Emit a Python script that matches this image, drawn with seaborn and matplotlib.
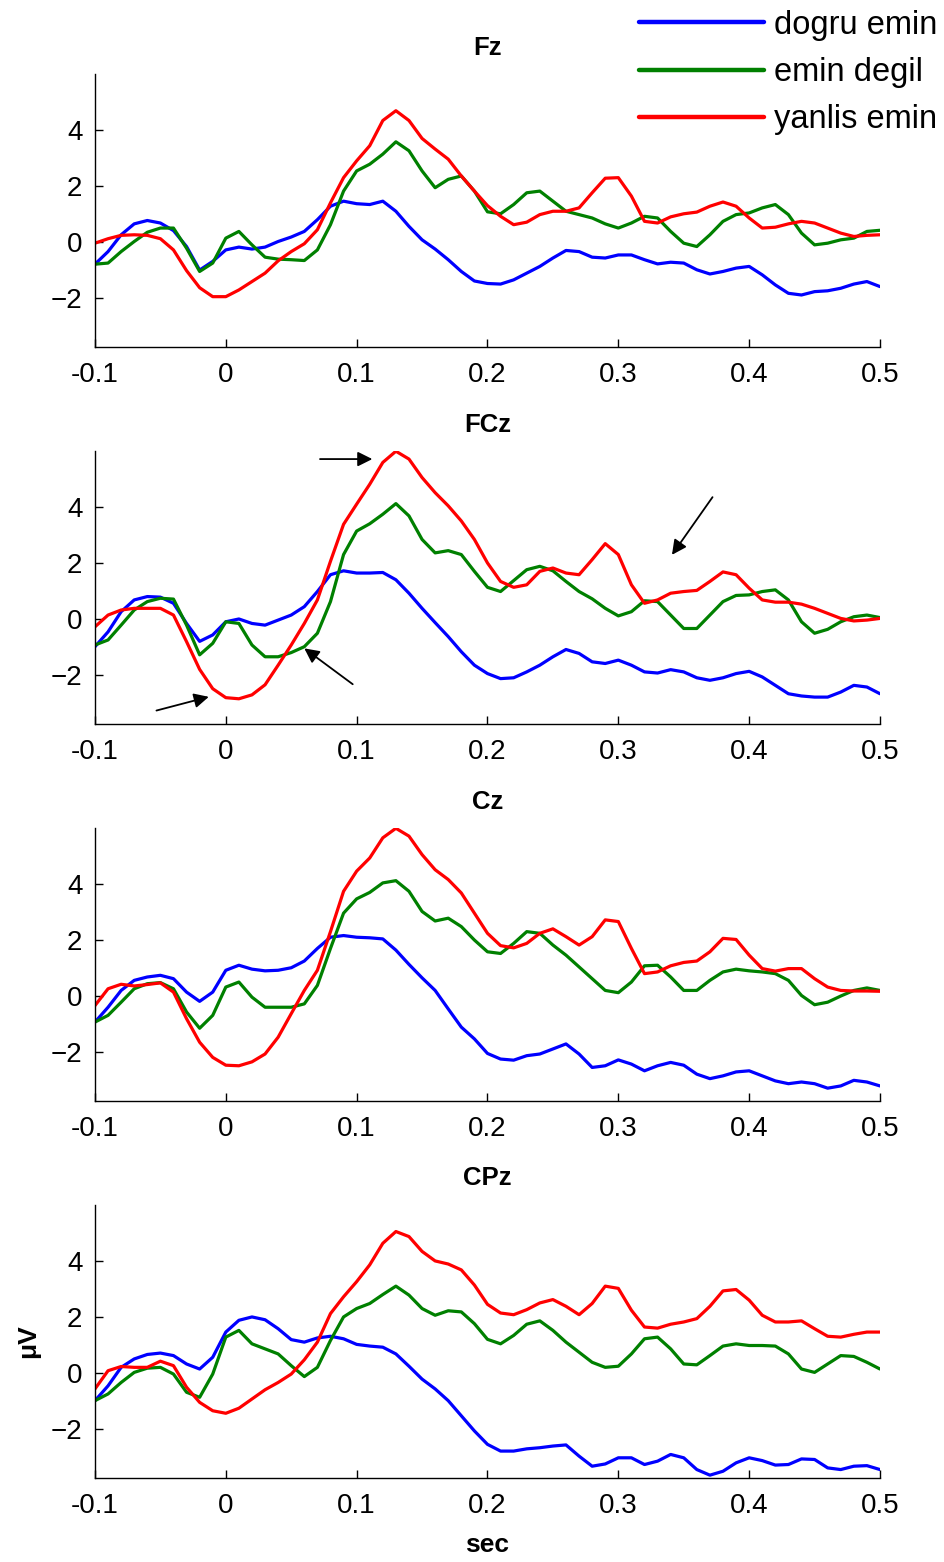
import numpy as np
import pandas as pd
import matplotlib.pyplot as plt
import seaborn as sns

# time axis (sec), one sample every 10 ms
time = np.round(np.linspace(-0.1, 0.5, 61), 2)

channels = ["Fz", "FCz", "Cz", "CPz"]
conditions = ["dogru emin", "emin degil", "yanlis emin"]
colors = ["#0000ff", "#008000", "#ff0000"]

x_ticks = [-0.1, 0, 0.1, 0.2, 0.3, 0.4, 0.5]
x_ticklabels = ["-0.1", "0", "0.1", "0.2", "0.3", "0.4", "0.5"]
y_ticks = [-2, 0, 2, 4]

# ERP amplitudes (uV)
fz_dogru = [-0.79, -0.34, 0.26, 0.65, 0.77, 0.68, 0.41, -0.16, -1.00, -0.69, -0.28,
            -0.18, -0.25, -0.18, 0.02, 0.18, 0.38, 0.80, 1.28, 1.46, 1.37,
            1.34, 1.46, 1.10, 0.56, 0.08, -0.25, -0.63, -1.05, -1.39, -1.48,
            -1.50, -1.35, -1.11, -0.87, -0.57, -0.30, -0.34, -0.54, -0.57, -0.46,
            -0.46, -0.63, -0.78, -0.72, -0.75, -0.99, -1.14, -1.05, -0.93, -0.87,
            -1.17, -1.53, -1.83, -1.89, -1.77, -1.74, -1.65, -1.50, -1.41, -1.59]
fz_emin = [-0.79, -0.75, -0.34, 0.02, 0.35, 0.50, 0.50, -0.22, -1.05, -0.75, 0.14,
           0.38, -0.10, -0.54, -0.61, -0.63, -0.66, -0.28, 0.62, 1.82, 2.54,
           2.78, 3.14, 3.58, 3.26, 2.54, 1.94, 2.24, 2.36, 1.82, 1.08,
           1.01, 1.34, 1.76, 1.82, 1.46, 1.10, 0.98, 0.86, 0.65, 0.50,
           0.68, 0.92, 0.86, 0.38, -0.04, -0.16, 0.26, 0.74, 0.98, 1.04,
           1.22, 1.34, 0.98, 0.32, -0.10, -0.04, 0.08, 0.14, 0.38, 0.42]
fz_yanlis = [-0.04, 0.12, 0.24, 0.26, 0.24, 0.12, -0.28, -1.02, -1.63, -1.95, -1.95,
             -1.71, -1.41, -1.11, -0.67, -0.34, -0.06, 0.44, 1.40, 2.30, 2.90,
             3.44, 4.34, 4.69, 4.34, 3.70, 3.32, 2.96, 2.36, 1.82, 1.30,
             0.92, 0.62, 0.71, 0.98, 1.10, 1.10, 1.22, 1.76, 2.28, 2.30,
             1.64, 0.74, 0.68, 0.90, 1.01, 1.07, 1.28, 1.43, 1.28, 0.86,
             0.50, 0.53, 0.65, 0.74, 0.68, 0.50, 0.32, 0.20, 0.24, 0.26]

fcz_dogru = [-0.99, -0.46, 0.26, 0.68, 0.80, 0.78, 0.56, -0.16, -0.80, -0.57, -0.10,
             0.00, -0.16, -0.22, -0.04, 0.14, 0.44, 0.98, 1.58, 1.72, 1.64,
             1.64, 1.66, 1.40, 0.92, 0.38, -0.13, -0.63, -1.17, -1.65, -1.95,
             -2.13, -2.10, -1.89, -1.65, -1.35, -1.09, -1.23, -1.53, -1.59, -1.47,
             -1.65, -1.89, -1.93, -1.81, -1.89, -2.10, -2.19, -2.10, -1.95, -1.87,
             -2.07, -2.37, -2.67, -2.75, -2.79, -2.79, -2.61, -2.37, -2.43, -2.67]
fcz_emin = [-0.93, -0.75, -0.22, 0.32, 0.62, 0.74, 0.71, -0.22, -1.28, -0.87, -0.10,
            -0.16, -0.93, -1.35, -1.35, -1.20, -0.99, -0.51, 0.62, 2.30, 3.14,
            3.40, 3.74, 4.12, 3.68, 2.84, 2.36, 2.44, 2.30, 1.70, 1.13,
            0.98, 1.37, 1.76, 1.88, 1.72, 1.34, 0.98, 0.72, 0.38, 0.11,
            0.26, 0.65, 0.62, 0.14, -0.34, -0.34, 0.14, 0.62, 0.84, 0.86,
            0.98, 1.04, 0.68, -0.10, -0.51, -0.37, -0.10, 0.08, 0.14, 0.05]
fcz_yanlis = [-0.28, 0.14, 0.32, 0.38, 0.38, 0.38, 0.14, -0.81, -1.80, -2.49, -2.81,
              -2.85, -2.71, -2.35, -1.65, -0.93, -0.16, 0.68, 2.06, 3.38, 4.10,
              4.81, 5.59, 5.99, 5.71, 5.05, 4.51, 4.04, 3.50, 2.84, 2.00,
              1.34, 1.13, 1.22, 1.70, 1.82, 1.64, 1.58, 2.12, 2.69, 2.30,
              1.22, 0.56, 0.68, 0.92, 0.98, 1.02, 1.34, 1.68, 1.58, 1.10,
              0.68, 0.60, 0.60, 0.53, 0.38, 0.20, 0.02, -0.07, -0.04, 0.02]

cz_dogru = [-0.93, -0.40, 0.20, 0.56, 0.68, 0.74, 0.62, 0.14, -0.19, 0.14, 0.92,
            1.10, 0.96, 0.90, 0.92, 1.01, 1.25, 1.70, 2.10, 2.16, 2.10,
            2.08, 2.04, 1.64, 1.13, 0.65, 0.20, -0.46, -1.11, -1.53, -2.05,
            -2.25, -2.29, -2.13, -2.07, -1.89, -1.71, -2.07, -2.55, -2.49, -2.28,
            -2.43, -2.67, -2.49, -2.37, -2.47, -2.79, -2.95, -2.85, -2.71, -2.67,
            -2.85, -3.03, -3.13, -3.07, -3.13, -3.29, -3.21, -3.01, -3.07, -3.21]
cz_emin = [-0.93, -0.69, -0.22, 0.26, 0.44, 0.48, 0.26, -0.57, -1.15, -0.69, 0.32,
           0.50, -0.04, -0.40, -0.40, -0.40, -0.28, 0.38, 1.70, 2.96, 3.47,
           3.70, 4.04, 4.12, 3.74, 3.02, 2.68, 2.78, 2.48, 2.00, 1.58,
           1.52, 1.88, 2.30, 2.24, 1.82, 1.46, 1.04, 0.62, 0.20, 0.12,
           0.50, 1.08, 1.10, 0.68, 0.20, 0.20, 0.56, 0.86, 0.96, 0.90,
           0.86, 0.80, 0.56, 0.02, -0.31, -0.22, 0.00, 0.20, 0.29, 0.20]
cz_yanlis = [-0.34, 0.26, 0.42, 0.36, 0.41, 0.47, 0.14, -0.81, -1.65, -2.19, -2.47,
             -2.49, -2.35, -2.07, -1.47, -0.63, 0.20, 0.92, 2.30, 3.74, 4.46,
             4.93, 5.65, 5.99, 5.71, 5.05, 4.51, 4.16, 3.68, 2.96, 2.24,
             1.80, 1.72, 1.88, 2.24, 2.40, 2.12, 1.82, 2.12, 2.72, 2.66,
             1.70, 0.80, 0.86, 1.08, 1.20, 1.25, 1.58, 2.06, 2.02, 1.46,
             0.98, 0.89, 0.98, 0.98, 0.62, 0.32, 0.20, 0.18, 0.18, 0.17]

cpz_dogru = [-0.99, -0.46, 0.20, 0.50, 0.66, 0.71, 0.62, 0.32, 0.14, 0.56, 1.46,
             1.88, 2.00, 1.90, 1.58, 1.19, 1.10, 1.25, 1.31, 1.22, 1.02,
             0.96, 0.92, 0.68, 0.24, -0.22, -0.57, -0.99, -1.53, -2.07, -2.55,
             -2.79, -2.79, -2.71, -2.67, -2.61, -2.57, -2.97, -3.33, -3.25, -3.03,
             -3.03, -3.27, -3.15, -2.91, -3.03, -3.45, -3.65, -3.51, -3.21, -3.03,
             -3.13, -3.29, -3.27, -3.07, -3.09, -3.39, -3.45, -3.33, -3.31, -3.45]
cpz_emin = [-0.99, -0.75, -0.34, 0.02, 0.17, 0.20, -0.04, -0.69, -0.87, -0.04, 1.28,
            1.52, 1.04, 0.86, 0.68, 0.26, -0.13, 0.20, 1.16, 2.00, 2.30,
            2.48, 2.80, 3.10, 2.78, 2.30, 2.06, 2.22, 2.18, 1.76, 1.20,
            1.04, 1.34, 1.74, 1.86, 1.52, 1.10, 0.74, 0.38, 0.20, 0.24,
            0.68, 1.22, 1.28, 0.86, 0.32, 0.29, 0.62, 0.96, 1.04, 0.98,
            0.98, 0.96, 0.68, 0.14, 0.02, 0.32, 0.62, 0.59, 0.38, 0.14]
cpz_yanlis = [-0.57, 0.08, 0.23, 0.20, 0.20, 0.42, 0.26, -0.51, -1.05, -1.35, -1.44,
              -1.26, -0.93, -0.60, -0.34, -0.04, 0.47, 1.10, 2.12, 2.72, 3.26,
              3.86, 4.63, 5.05, 4.87, 4.34, 4.00, 3.89, 3.68, 3.14, 2.45,
              2.14, 2.08, 2.26, 2.50, 2.62, 2.38, 2.08, 2.48, 3.10, 3.02,
              2.24, 1.64, 1.60, 1.74, 1.82, 1.94, 2.38, 2.93, 2.98, 2.60,
              2.06, 1.82, 1.82, 1.86, 1.58, 1.31, 1.28, 1.38, 1.46, 1.46]

series = {
    "Fz": [fz_dogru, fz_emin, fz_yanlis],
    "FCz": [fcz_dogru, fcz_emin, fcz_yanlis],
    "Cz": [cz_dogru, cz_emin, cz_yanlis],
    "CPz": [cpz_dogru, cpz_emin, cpz_yanlis],
}

rows = []
for ch in channels:
    for cond, vals in zip(conditions, series[ch]):
        for t, v in zip(time, vals):
            rows.append((ch, cond, t, v))
df = pd.DataFrame(rows, columns=["channel", "condition", "time", "value"])

sns.set_theme(style="ticks")
plt.rcParams["font.family"] = ["Liberation Sans", "DejaVu Sans"]
plt.rcParams["text.color"] = "black"
plt.rcParams["axes.labelcolor"] = "black"

fig = plt.figure(figsize=(9.44, 15.62), dpi=100)
fig.patch.set_facecolor("white")

# axes boxes in figure fraction (left, bottom, width, height)
bottoms = [0.7778, 0.5365, 0.2951, 0.0538]
palette = dict(zip(conditions, colors))

axes = []
for ch, b in zip(channels, bottoms):
    ax = fig.add_axes([0.1006, b, 0.8316, 0.1748])
    sub = df[df["channel"] == ch]
    sns.lineplot(data=sub, x="time", y="value", hue="condition", hue_order=conditions,
                 palette=palette, errorbar=None, lw=2.3, ax=ax,
                 solid_joinstyle="round", solid_capstyle="round")
    ax.set_xlim(-0.1, 0.5)
    ax.set_ylim(-3.75, 6)
    ax.set_xticks(x_ticks)
    ax.set_xticklabels(x_ticklabels)
    ax.set_yticks(y_ticks)
    ax.tick_params(direction="in", length=6, width=1, labelsize=20, colors="black")
    ax.tick_params(axis="x", pad=11)
    ax.tick_params(axis="y", pad=9)
    for s in ["left", "bottom"]:
        ax.spines[s].set_color("black")
        ax.spines[s].set_linewidth(1.0)
    sns.despine(ax=ax)
    ax.set_title(ch, fontsize=18.5, fontweight="bold", pad=14, color="black")
    ax.set_xlabel("")
    ax.set_ylabel("")
    axes.append(ax)

handles, labels = axes[0].get_legend_handles_labels()
for ax in axes:
    if ax.get_legend() is not None:
        ax.get_legend().remove()

leg = fig.legend(handles, labels, loc="upper right", bbox_to_anchor=(1.0, 0.998),
                 frameon=False, fontsize=23.5, handlelength=3.85, handletextpad=0.3,
                 labelspacing=0.5, borderaxespad=0.1, borderpad=0.1)
for h in leg.get_lines():
    h.set_linewidth(3.2)
for txt in leg.get_texts():
    txt.set_color("black")

axes[3].set_xlabel("sec", fontsize=19, fontweight="bold", labelpad=10, color="black")
axes[3].set_ylabel("\u03bcV", fontsize=19, fontweight="bold", labelpad=8, color="black")

# annotation arrows on FCz panel (tail -> head, data coordinates)
arrow_tails = [(0.072, 5.71), (-0.053, -3.27), (0.097, -2.33), (0.372, 4.35)]
arrow_heads = [(0.112, 5.71), (-0.013, -2.78), (0.060, -1.05), (0.341, 2.29)]
for tail, head in zip(arrow_tails, arrow_heads):
    axes[1].annotate("", xy=head, xytext=tail, annotation_clip=False,
                     arrowprops=dict(arrowstyle="-|>", color="black", lw=1.3,
                                     mutation_scale=22, shrinkA=0, shrinkB=0))

fig.savefig("out.png", dpi=100, facecolor="white")
